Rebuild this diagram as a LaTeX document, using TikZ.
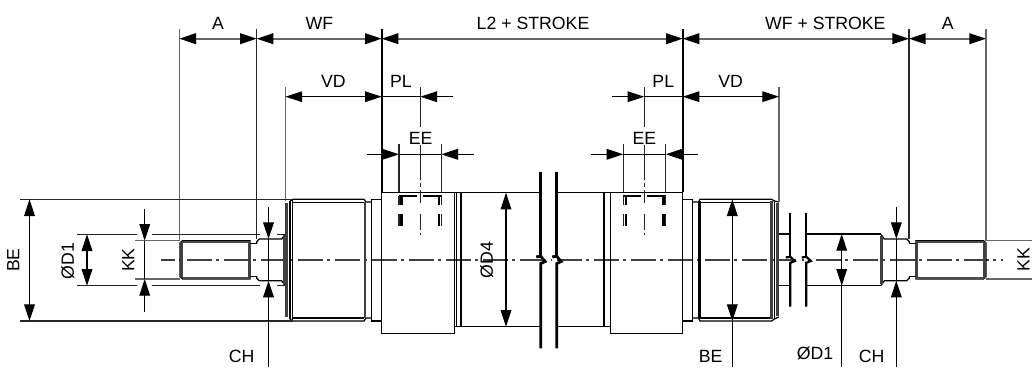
\documentclass[tikz,border=0pt]{standalone}
\usepackage{fontspec}
\setmainfont{Liberation Sans}
\usetikzlibrary{arrows.meta}

\tikzset{
    outl/.style={line width=1.25pt},
    heavy/.style={line width=2.8pt},
    hatchline/.style={line width=2.6pt,black!75},
    band/.style={fill=black!70},
    dimtop/.style={line width=1.8pt,black!60},
    dimthin/.style={line width=1.1pt},
    extgray/.style={line width=1.4pt,black!60},
    extdark/.style={line width=1.2pt,black!85},
    portline/.style={line width=2.4pt},
    lbl/.style={inner sep=0pt,font=\fontsize{17.7}{20}\selectfont},
    lblv/.style={lbl,rotate=90},
    axisline/.style={line width=1.3pt,black!75,dash pattern=on 25pt off 4.5pt on 3pt off 4.5pt,dash phase=11.3pt}
}

\newcommand{\rodend}{
    % thread, neck and flats
    \draw [outl] (180,243) -- (182.5,240.7) -- (250,240.7) -- (250,279) -- (182.5,279) -- (180,276.7) -- cycle;
    \fill [band] (182.5,240.7) rectangle (250,243.2);
    \fill [band] (182.5,276.5) rectangle (250,279);
    \draw [hatchline] (181.5,242) -- (181.5,278);
    \draw [hatchline] (249.3,242) -- (249.3,278);
    \draw [outl] (250,243.7) -- (256.7,243.7);
    \draw [outl] (250,276.3) -- (256.7,276.3);
    \draw [outl] (256.7,243.7) -- (256.7,241.7) -- (259.3,239) -- (281.7,239) -- (285,234.5);
    \draw [outl] (256.7,276.3) -- (256.7,278.3) -- (259.3,280.7) -- (281.7,280.7) -- (285,285.5);
    \draw [hatchline] (284.3,236) -- (284.3,284);
}

\begin{document}
\begin{tikzpicture}[x=1pt,y=-1pt,>={Triangle[length=16.7pt,width=10.7pt,black]}]
    \useasboundingbox (0,0) rectangle (1032,367);

    % centre line
    \draw [axisline] (161,260) -- (1003,260);
    \fill [white] (546.8,257) rectangle (551,263);
    \fill [white] (796,257) rectangle (801.5,263);

    % rod ends
    \rodend
    \begin{scope}[xshift=1166pt,xscale=-1]
        \rodend
    \end{scope}

    % left gland and bush
    \draw [outl] (290,201) -- (292.7,199.3) -- (364,199.3) -- (366,202) -- (371.7,202);
    \draw [outl] (290,319) -- (292.7,321) -- (364,321) -- (366,318) -- (371.7,318);
    \draw [outl] (293,202.3) -- (364,202.3);
    \draw [outl] (293,318) -- (364,318);
    \draw [heavy,black!75] (286.3,203) -- (286.3,317);
    \draw [outl] (290,201) -- (290,319);
    \draw [outl] (292.7,199.3) -- (292.7,321);
    \draw [hatchline] (365,202) -- (365,318);
    \draw [outl] (371.7,199.3) rectangle (381.7,321);

    % left head
    \draw [outl] (381.7,192.3) rectangle (454.3,333.3);
    \draw [outl] (454.3,192.7) -- (540.7,192.7);
    \draw [outl] (454.3,326.7) -- (540.7,326.7);
    \draw [outl] (456.7,192.7) -- (456.7,326.7);
    \draw [line width=1.6pt] (461,192.7) -- (461,326.7);

    % tube break
    \foreach \bx in {540.7,556.7}
    {
        \draw [heavy] (\bx,172.3) -- (\bx,255.5);
        \draw [heavy] (\bx-4.5,256.8) -- (\bx,256.3) -- (\bx+4.5,261.5) -- (\bx,263.5) -- (\bx,348.3);
    }
    \draw [outl] (556.7,192.7) -- (610.3,192.7);
    \draw [outl] (556.7,326.7) -- (610.3,326.7);
    \draw [line width=2pt] (603.5,192.7) -- (603.5,326.7);

    % right head
    \draw [outl] (610.3,192.3) rectangle (682.7,333.3);
    \draw [outl] (682.7,199.3) rectangle (692.7,321);

    % right gland and bush
    \draw [outl] (692.7,202) -- (698.5,202) -- (700,199.3) -- (771.7,199.3) -- (774.3,201) -- (778.8,202);
    \draw [outl] (692.7,318) -- (698.5,318) -- (700,321) -- (771.7,321) -- (774.3,319) -- (778.8,317);
    \draw [outl] (699.5,202.3) -- (771.7,202.3);
    \draw [outl] (699.5,318) -- (771.7,318);
    \draw [heavy] (699.2,201) -- (699.2,319);
    \draw [hatchline] (771.5,201) -- (771.5,319);
    \draw [outl] (774.3,201) -- (774.3,319);
    \draw [hatchline] (777.7,203) -- (777.7,316);

    % right rod break
    \foreach \bx in {790.3,806.3}
    {
        \draw [line width=2.2pt] (\bx,213.3) -- (\bx,256);
        \draw [line width=2.2pt] (\bx-4.5,257.5) -- (\bx,256.8) -- (\bx+4.5,261) -- (\bx,262.8) -- (\bx,306.7);
    }
    \draw [outl] (779.3,234) -- (790.3,234);
    \draw [outl] (779.3,285.7) -- (790.3,285.7);
    \draw [outl] (806.3,234) -- (881,234);
    \draw [outl] (806.3,285.7) -- (881,285.7);

    % ports
    \foreach \px in {399,623.3}
    {
        \begin{scope}[xshift=\px pt]
            \draw [portline] (0,195.7) -- (18,195.7);
            \draw [portline] (24,195.7) -- (42.5,195.7);
            \draw [portline] (2.6,195.7) -- (2.6,205);
            \draw [portline] (2.6,214) -- (2.6,226);
            \draw [portline] (40.2,195.7) -- (40.2,205);
            \draw [portline] (40.2,214) -- (40.2,226);
            \draw [extdark] (0,196) -- (0,205);
            \draw [extdark] (0,214) -- (0,226);
            \draw [extdark] (42.5,196) -- (42.5,205);
            \draw [extdark] (42.5,214) -- (42.5,226);
            % port axis
            \draw [extdark] (21.3,145) -- (21.3,180);
            \draw [extdark] (21.3,183) -- (21.3,187);
            \draw [extdark] (21.3,190) -- (21.3,203);
            \draw [extdark] (21.3,214) -- (21.3,230);
            \draw [extdark] (21.3,232.5) -- (21.3,235);
            \draw [extdark] (21.3,87.3) -- (21.3,127);
            % EE witness lines
            \draw [extdark] (0,144) -- (0,192.3);
            \draw [extdark] (42.3,144) -- (42.3,192.3);
        \end{scope}
    }

    % witness lines
    \draw [extgray] (179.3,29.3) -- (179.3,240.7);
    \draw [extdark] (256.7,29.3) -- (256.7,239);
    \draw [line width=1.8pt] (381.7,29.3) -- (381.7,192.3);
    \draw [line width=1.8pt] (682.7,29.3) -- (682.7,192.3);
    \draw [extdark] (909,29.3) -- (909,239);
    \draw [extgray] (986,29.3) -- (986,240.7);
    \draw [extgray] (285.5,87.3) -- (285.5,201);
    \draw [extgray] (779,87.3) -- (779,202);

    \draw [extdark] (20,199.3) -- (292.7,199.3);
    \draw [extdark] (20,321) -- (292.7,321);
    \draw [extdark] (77,234.3) -- (137,234.3);
    \draw [extdark] (152,234.3) -- (260,234.3);
    \draw [extdark] (277,234.3) -- (284,234.3);
    \draw [extdark] (77,285.7) -- (137,285.7);
    \draw [extdark] (152,285.7) -- (260,285.7);
    \draw [extdark] (277,285.7) -- (284,285.7);
    \draw [extgray] (135,240.7) -- (180,240.7);
    \draw [extgray] (135,279) -- (180,279);
    \draw [extgray] (986,240.7) -- (1032,240.7);
    \draw [extgray] (986,279) -- (1032,279);

    % dimension end points
    \foreach \n/\xx in {a/179.3,b/256.7,c/381.7,d/682.7,e/909,f/986}
        \coordinate (top\n) at (\xx,38.7);
    \coordinate (vdl) at (285.5,96.7);
    \coordinate (vdm) at (381.7,96.7);
    \coordinate (pltipl) at (420.3,96.7);
    \coordinate (pltaill) at (452.7,96.7);
    \coordinate (vdr) at (779,96.7);
    \coordinate (vdn) at (682.7,96.7);
    \coordinate (pltipr) at (644.3,96.7);
    \coordinate (pltailr) at (612,96.7);
    \coordinate (eel) at (366.7,154.3);
    \coordinate (eeltip) at (399,154.3);
    \coordinate (eemtip) at (441.3,154.3);
    \coordinate (eem) at (474,154.3);
    \coordinate (eer) at (590.7,154.3);
    \coordinate (eertip) at (623.3,154.3);
    \coordinate (eentip) at (665.6,154.3);
    \coordinate (een) at (697.7,154.3);
    \coordinate (beltop) at (29.5,199.3);
    \coordinate (belbot) at (29.5,321);
    \coordinate (dltop) at (87,234.3);
    \coordinate (dlbot) at (87,285.7);
    \coordinate (kktop) at (144.7,209);
    \coordinate (kktip) at (144.7,240.7);
    \coordinate (kkbot) at (144.7,311.7);
    \coordinate (kktiq) at (144.7,279);
    \coordinate (chltop) at (268.5,207);
    \coordinate (chltip) at (268.5,239);
    \coordinate (chlbot) at (268.5,367);
    \coordinate (chltiq) at (268.5,280.7);
    \coordinate (d4top) at (506,192.7);
    \coordinate (d4bot) at (506,326.7);
    \coordinate (bertop) at (732.3,199.3);
    \coordinate (berbot) at (732.3,321);
    \coordinate (berend) at (732.3,367);
    \coordinate (drtop) at (841.7,234);
    \coordinate (drbot) at (841.7,285.7);
    \coordinate (drend) at (841.7,367);
    \coordinate (chrtop) at (896.3,206.7);
    \coordinate (chrtip) at (896.3,239);
    \coordinate (chrbot) at (896.3,367);
    \coordinate (chrtiq) at (896.3,280.7);

    % dimensions
    \draw [dimtop,<->] (topa) -- (topb);
    \draw [dimtop,<->] (topb) -- (topc);
    \draw [dimtop,<->] (topc) -- (topd);
    \draw [dimtop,<->] (topd) -- (tope);
    \draw [dimtop,<->] (tope) -- (topf);
    \draw [dimthin,<->] (vdl) -- (vdm);
    \draw [dimthin] (vdm) -- (pltipl);
    \draw [dimthin,<-] (pltipl) -- (pltaill);
    \draw [dimthin,<->] (vdn) -- (vdr);
    \draw [dimthin] (vdn) -- (pltipr);
    \draw [dimthin,<-] (pltipr) -- (pltailr);
    \draw [dimthin,->] (eel) -- (eeltip);
    \draw [dimthin] (eeltip) -- (eemtip);
    \draw [dimthin,<-] (eemtip) -- (eem);
    \draw [dimthin,->] (eer) -- (eertip);
    \draw [dimthin] (eertip) -- (eentip);
    \draw [dimthin,<-] (eentip) -- (een);
    \draw [dimthin,<->] (beltop) -- (belbot);
    \draw [dimthin,<->] (dltop) -- (dlbot);
    \draw [dimthin,->] (kktop) -- (kktip);
    \draw [dimthin] (kktip) -- (kktiq);
    \draw [dimthin,->] (kkbot) -- (kktiq);
    \draw [dimthin,->] (chltop) -- (chltip);
    \draw [dimthin] (chltip) -- (chltiq);
    \draw [dimthin,->] (chlbot) -- (chltiq);
    \draw [dimthin,<->] (d4top) -- (d4bot);
    \draw [dimthin,<->] (bertop) -- (berbot);
    \draw [dimthin] (berbot) -- (berend);
    \draw [dimthin,<->] (drtop) -- (drbot);
    \draw [dimthin] (drbot) -- (drend);
    \draw [dimthin,->] (chrtop) -- (chrtip);
    \draw [dimthin] (chrtip) -- (chrtiq);
    \draw [dimthin,->] (chrbot) -- (chrtiq);

    % labels
    \node [lbl] (labaleft) at (218,23) {A};
    \node [lbl] (labwfleft) at (319.3,23) {WF};
    \node [lbl] (labstroke) at (533,23) {L2 + STROKE};
    \node [lbl] (labwfright) at (825.3,23) {WF + STROKE};
    \node [lbl] (labaright) at (947.7,23) {A};
    \node [lbl] (labvdleft) at (333.3,81) {VD};
    \node [lbl] (labplleft) at (401,81) {PL};
    \node [lbl] (labvdright) at (730.7,81) {VD};
    \node [lbl] (labplright) at (663.3,81) {PL};
    \node [lbl] (labeeleft) at (420.7,138) {EE};
    \node [lbl] (labeeright) at (644.3,138) {EE};
    \node [lblv] (labbeleft) at (13.3,260) {BE};
    \node [lblv] (labdleft) at (67.7,261) {ØD1};
    \node [lblv] (labkkleft) at (128.3,260) {KK};
    \node [lblv] (labdfour) at (486.7,260) {ØD4};
    \node [lblv] (labkkright) at (1023.5,259.3) {KK};
    \node [lbl] (labchleft) at (241.7,356) {CH};
    \node [lbl] (labberight) at (710.7,356) {BE};
    \node [lbl] (labdright) at (815,353) {ØD1};
    \node [lbl] (labchright) at (871.7,356) {CH};
\end{tikzpicture}
\end{document}
